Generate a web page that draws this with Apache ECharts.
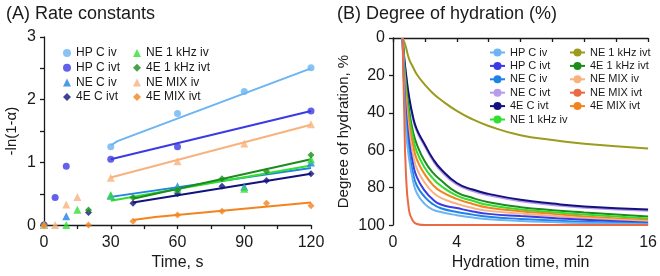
<!DOCTYPE html>
<html>
<head>
<meta charset="utf-8">
<script src="https://cdn.jsdelivr.net/npm/echarts@6/dist/echarts.min.js"></script>
<style>
  html, body { margin: 0; padding: 0; background: #fff; }
  #main { width: 660px; height: 276px; }
</style>
</head>
<body>
<div id="main"></div>
<script>
// (A) rate constants: [time s, -ln(1-a)]
var hpCiv = [[0, 0], [30, 1.25], [60, 1.78], [90, 2.13], [120, 2.51]];
var hpCivt = [[0, 0], [5, 0.44], [10, 0.94], [30, 1.05], [60, 1.25], [120, 1.82]];
var neCiv = [[0, 0], [10, 0.14], [30, 0.47], [60, 0.62], [90, 0.61], [120, 1.0]];
var e4Civt = [[0, 0], [20, 0.2], [40, 0.35], [60, 0.5], [80, 0.62], [100, 0.71], [120, 0.82]];
var ne1kIv = [[0, 0], [10, 0], [15, 0.245], [30, 0.48], [60, 0.58], [90, 0.58], [120, 1.05]];
var e41kIvt = [[0, 0], [20, 0.24], [40, 0.44], [60, 0.56], [80, 0.74], [100, 0.86], [120, 1.12]];
var neMixIv = [[0, 0], [5, 0], [10, 0.33], [15, 0.45], [30, 0.755], [60, 1.02], [90, 1.3], [120, 1.61]];
var e4MixIvt = [[0, 0], [20, 0], [40, 0.06], [60, 0.16], [80, 0.22], [100, 0.35], [120, 0.31]];

// fitted lines
var fitHpCiv = [[30, 1.27], [33, 1.34], [120, 2.5]];
var fitHpCivt = [[30, 1.05], [120, 1.82]];
var fitNeCiv = [[30, 0.45], [120, 0.91]];
var fitE4Civt = [[40, 0.36], [120, 0.82]];
var fitNe1kIv = [[30, 0.39], [120, 0.95]];
var fitE41kIvt = [[40, 0.42], [120, 1.05]];
var fitNeMixIv = [[30, 0.76], [120, 1.6]];
var fitE4MixIvt = [[40, 0.08], [50, 0.13], [120, 0.36]];

// (B) degree of hydration, %
var hydTime = [0.6, 0.7, 0.8, 1, 1.25, 1.5, 2, 2.5, 3, 4, 5, 6, 8, 10, 12, 16];
var hHpCiv = [0, 29, 48, 64, 76, 83, 88.8, 91.7, 93, 94.7, 96, 96.9, 97.8, 98.4, 98.9, 99.6];
var hHpCivt = [0, 23, 38, 55, 67, 74.5, 81.7, 86.3, 89, 90.9, 92.7, 94, 95.2, 96.2, 97.2, 98.7];
var hNeCiv = [0, 26, 43, 60, 72, 79, 85, 88.8, 91, 93, 94.4, 95.6, 96.7, 97.5, 98.2, 99.2];
var hNeCivt = [0, 11, 19, 32, 43, 50, 58, 65.5, 71, 78.3, 81.8, 84.1, 87.2, 89.2, 90.7, 92.3];
var hE4Civt = [0, 10, 18, 31, 42, 49, 57, 64.5, 70, 77.5, 81, 83.3, 86.5, 88.5, 90, 91.7];
var hNe1kIv = [0, 15, 26, 41.4, 53, 61, 69.5, 75, 79, 84.2, 87, 89.3, 91.6, 93.1, 94.4, 96.5];
var hNe1kIvt = [0, 2, 4.5, 11, 15.5, 19.5, 25, 29.5, 33, 39, 43.5, 47, 52, 54.5, 56.5, 59];
var hE41kIvt = [0, 13, 23, 38, 50, 57, 66, 72, 76, 82.5, 85.5, 87.8, 90.4, 92, 93.2, 95.4];
var hNeMixIv = [0, 20, 34, 50, 62, 70, 77.4, 82.5, 85.5, 88.6, 90.9, 92.4, 93.8, 95, 96.2, 98];
var hNeMixIvt = [0, 38, 70, 92, 97.8, 99.4, 100, 100, 100, 100, 100, 100, 100, 100, 100, 100];
var hE4MixIvt = [0, 17, 29, 45, 57, 65, 73, 78.5, 82, 86, 88.7, 90.7, 92.6, 94, 95.4, 97.3];

var font = 'Liberation Sans';
var ink = '#1a1a1a';

function pair(times, vals) {
    return times.map(function (t, i) { return [t, vals[i]]; });
}

function pts(name, data, color, symbol) {
    return {
        name: name, type: 'scatter', xAxisIndex: 0, yAxisIndex: 0,
        data: data, symbol: symbol, symbolSize: symbol === 'triangle' ? 8 : 7,
        itemStyle: { color: color }, z: 3
    };
}

function fit(data, color) {
    return {
        name: 'fit', type: 'line', xAxisIndex: 0, yAxisIndex: 0,
        data: data, symbol: 'none', lineStyle: { color: color, width: 2 }, z: 2
    };
}

function curve(name, vals, color) {
    return {
        name: name + ' ', type: 'line', xAxisIndex: 1, yAxisIndex: 1,
        data: pair(hydTime, vals), symbol: 'none', smooth: 0.5,
        color: color, lineStyle: { color: color, width: 2 }
    };
}

var c = {
    hpCiv: '#6cb4f2', hpCivt: '#3a3ae6', neCiv: '#1e82e6', neCivt: '#b99bec',
    e4Civt: '#12127f', ne1kIv: '#2fe02f', ne1kIvt: '#9b9b1e', e41kIvt: '#1d8c1d',
    neMixIv: '#f7b27e', neMixIvt: '#ea6a45', e4MixIvt: '#f2841f'
};

var tickLabel = { fontFamily: font, fontSize: 16, color: ink };
var axisLine = { show: true, lineStyle: { color: ink, width: 1.3 } };
var axisTick = { show: true, length: 4, lineStyle: { color: ink, width: 1.3 } };

var legendText = { fontFamily: font, fontSize: 12, color: ink };
var legendTextB = { fontFamily: font, fontSize: 11, color: ink };
function trim(n) { return n.trim(); }

var option = {
    animation: false,
    backgroundColor: '#fff',
    title: [
        { text: '(A) Rate constants', left: 1, top: 0, textStyle: { fontFamily: font, fontSize: 18, fontWeight: 'normal', color: ink } },
        { text: '(B) Degree of hydration (%)', left: 332, top: 0, textStyle: { fontFamily: font, fontSize: 18, fontWeight: 'normal', color: ink } }
    ],
    legend: [
        { orient: 'vertical', left: 58, top: 42, itemWidth: 8, itemHeight: 8, itemGap: 2.7, textStyle: legendText,
          data: ['HP C iv', 'HP C ivt', 'NE C iv', '4E C ivt'] },
        { orient: 'vertical', left: 128, top: 42, itemWidth: 8, itemHeight: 8, itemGap: 2.7, textStyle: legendText,
          data: ['NE 1 kHz iv', '4E 1 kHz ivt', 'NE MIX iv', '4E MIX ivt'] },
        { orient: 'vertical', left: 484, top: 42, itemWidth: 15, itemHeight: 10, itemGap: 2.4, textStyle: legendTextB, formatter: trim,
          data: ['HP C iv ', 'HP C ivt ', 'NE C iv ', 'NE C ivt ', '4E C ivt ', 'NE 1 kHz iv '] },
        { orient: 'vertical', left: 564, top: 42, itemWidth: 15, itemHeight: 10, itemGap: 2.4, textStyle: legendTextB, formatter: trim,
          data: ['NE 1 kHz ivt ', '4E 1 kHz ivt ', 'NE MIX iv ', 'NE MIX ivt ', '4E MIX ivt '] }
    ],
    grid: [
        { left: 44, right: 349, top: 37, bottom: 47 },
        { left: 393, right: 10, top: 38, bottom: 47 }
    ],
    xAxis: [
        { gridIndex: 0, type: 'value', min: 0, max: 120, interval: 15,
          name: 'Time, s', nameLocation: 'middle', nameGap: 26,
          nameTextStyle: { fontFamily: font, fontSize: 16, color: ink },
          axisLine: axisLine, axisTick: axisTick, splitLine: { show: false },
          axisLabel: Object.assign({ margin: 9, formatter: function (v) { return v % 30 === 0 ? v : ''; } }, tickLabel) },
        { gridIndex: 1, type: 'value', min: 0, max: 16, interval: 2,
          name: 'Hydration time, min', nameLocation: 'middle', nameGap: 26,
          nameTextStyle: { fontFamily: font, fontSize: 16, color: ink },
          axisLine: axisLine, axisTick: axisTick, splitLine: { show: false },
          axisLabel: Object.assign({ margin: 9, formatter: function (v) { return v % 4 === 0 ? v : ''; } }, tickLabel) }
    ],
    yAxis: [
        { gridIndex: 0, type: 'value', min: 0, max: 3, interval: 0.5,
          name: '-ln(1-α)', nameLocation: 'middle', nameGap: 25,
          nameTextStyle: { fontFamily: font, fontSize: 15, color: ink },
          axisLine: axisLine, axisTick: axisTick, splitLine: { show: false },
          axisLabel: Object.assign({ margin: 8, formatter: function (v) { return v % 1 === 0 ? v : ''; } }, tickLabel) },
        { gridIndex: 1, type: 'value', min: 0, max: 100, interval: 20, inverse: true,
          name: 'Degree of hydration, %', nameLocation: 'middle', nameGap: 42,
          nameTextStyle: { fontFamily: font, fontSize: 15, color: ink },
          axisLine: axisLine, axisTick: axisTick, splitLine: { show: false },
          axisLabel: Object.assign({ margin: 8 }, tickLabel) }
    ],
    series: [
        fit(fitHpCiv, c.hpCiv),
        fit(fitHpCivt, c.hpCivt),
        fit(fitNeMixIv, c.neMixIv),
        fit(fitNeCiv, c.neCiv),
        fit(fitNe1kIv, c.ne1kIv),
        fit(fitE41kIvt, c.e41kIvt),
        fit(fitE4Civt, c.e4Civt),
        fit(fitE4MixIvt, c.e4MixIvt),
        pts('HP C iv', hpCiv, c.hpCiv, 'circle'),
        pts('HP C ivt', hpCivt, c.hpCivt, 'circle'),
        pts('NE C iv', neCiv, c.neCiv, 'triangle'),
        pts('4E C ivt', e4Civt, c.e4Civt, 'diamond'),
        pts('NE 1 kHz iv', ne1kIv, c.ne1kIv, 'triangle'),
        pts('4E 1 kHz ivt', e41kIvt, c.e41kIvt, 'diamond'),
        pts('NE MIX iv', neMixIv, c.neMixIv, 'triangle'),
        pts('4E MIX ivt', e4MixIvt, c.e4MixIvt, 'diamond'),

        curve('NE 1 kHz ivt', hNe1kIvt, c.ne1kIvt),
        curve('NE C ivt', hNeCivt, c.neCivt),
        curve('4E C ivt', hE4Civt, c.e4Civt),
        curve('4E 1 kHz ivt', hE41kIvt, c.e41kIvt),
        curve('NE 1 kHz iv', hNe1kIv, c.ne1kIv),
        curve('4E MIX ivt', hE4MixIvt, c.e4MixIvt),
        curve('NE MIX iv', hNeMixIv, c.neMixIv),
        curve('HP C ivt', hHpCivt, c.hpCivt),
        curve('NE C iv', hNeCiv, c.neCiv),
        curve('HP C iv', hHpCiv, c.hpCiv),
        curve('NE MIX ivt', hNeMixIvt, c.neMixIvt)
    ]
};

var chart = echarts.init(document.getElementById('main'), null, { renderer: 'canvas' });
chart.setOption(option);
</script>
</body>
</html>
